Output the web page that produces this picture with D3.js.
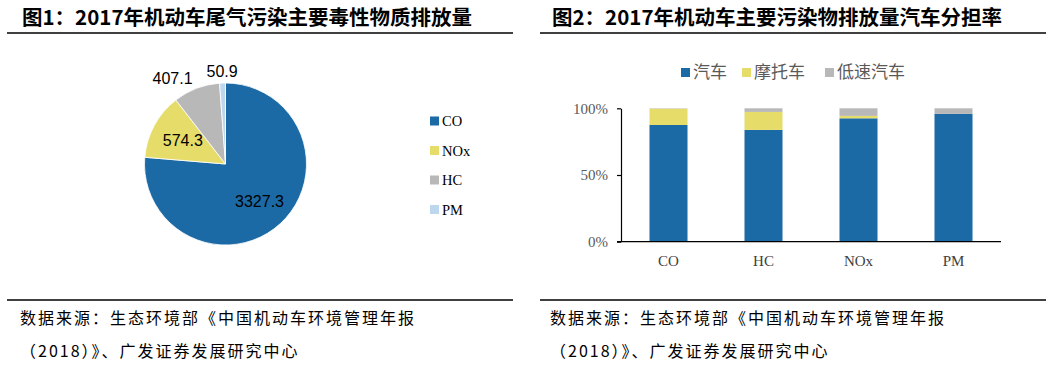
<!DOCTYPE html>
<html>
<head>
<meta charset="utf-8">
<script src="https://d3js.org/d3.v7.min.js"></script>
<style>
  body { margin: 0; background: #fff; }
  .title { font-family: "Noto Sans CJK SC", sans-serif; font-weight: 700; font-size: 20.5px; fill: #000; }
  .note { font-family: "Noto Sans CJK SC", sans-serif; font-size: 16px; letter-spacing: 2px; fill: #000; }
  .serif { font-family: "Liberation Serif", "DejaVu Serif", serif; }
</style>
</head>
<body>
<div id="chart"></div>
<script>
// chart 1: 2017 emissions of main toxic pollutants
var pollutants = ["CO", "NOx", "HC", "PM"];
var emissions = [3327.3, 574.3, 407.1, 50.9];
var pieColors = ["#1b6aa5", "#e6dc6a", "#b8b8b8", "#bdd7ee"];

// chart 2: share of each vehicle type (%)
var barCats = ["CO", "HC", "NOx", "PM"];
var vehicleTypes = ["汽车", "摩托车", "低速汽车"];
var carShare = [87.5, 83.8, 92.5, 95.8];
var motoShare = [12.2, 13.5, 1.8, 0];
var lowSpeedShare = [0.3, 2.7, 5.7, 4.2];
var barColors = ["#1b6aa5", "#e6dc6a", "#b8b8b8"];
var yTicks = [0, 50, 100];

var titles = ["图1：2017年机动车尾气污染主要毒性物质排放量", "图2：2017年机动车主要污染物排放量汽车分担率"];
var sourceLines = ["数据来源：生态环境部《中国机动车环境管理年报", "（2018）》、广发证券发展研究中心"];

var W = 1057, H = 370;
var svg = d3.select("#chart").append("svg")
  .attr("width", W).attr("height", H);

// titles, rules and source notes for both panels
var panels = [{x0: 7, x1: 513, tx: 22}, {x0: 540, x1: 1046, tx: 552}];
panels.forEach(function(p, i) {
  svg.append("text").attr("class", "title")
    .attr("x", p.tx).attr("y", 25).text(titles[i]);
  svg.append("line").attr("x1", p.x0).attr("x2", p.x1).attr("y1", 33).attr("y2", 33)
    .attr("stroke", "#000").attr("stroke-width", 1.5);
  svg.append("line").attr("x1", p.x0).attr("x2", p.x1).attr("y1", 300).attr("y2", 300)
    .attr("stroke", "#000").attr("stroke-width", 1.5);
  sourceLines.forEach(function(s, j) {
    svg.append("text").attr("class", "note")
      .attr("x", p.tx - 2).attr("y", 324 + j * 33).text(s);
  });
});

// ---- pie ----
var cx = 225.5, cy = 164, r = 81;
var pieData = pollutants.map(function(d, i) { return {name: d, value: emissions[i], color: pieColors[i]}; });
var pie = d3.pie().sort(null).value(function(d) { return d.value; });
var arcs = pie(pieData);
var arc = d3.arc().innerRadius(0).outerRadius(r);
var gPie = svg.append("g").attr("transform", "translate(" + cx + "," + cy + ")");
gPie.selectAll("path").data(arcs).enter().append("path")
  .attr("d", arc)
  .attr("fill", function(d) { return d.data.color; })
  .attr("stroke", "#fff").attr("stroke-width", 0.8);

// label radius: inside for big slices, outside for small ones
var labelR = [0.62, 0.6, 1.135, 1.14];
var labelAnchor = ["middle", "middle", "end", "middle"];
gPie.selectAll("text.lbl").data(arcs).enter().append("text")
  .attr("class", "lbl")
  .attr("transform", function(d, i) {
    var la = d3.arc().innerRadius(r * labelR[i]).outerRadius(r * labelR[i]);
    return "translate(" + la.centroid(d) + ")";
  })
  .attr("text-anchor", function(d, i) { return labelAnchor[i]; }).attr("dy", "0.35em")
  .style("font-family", "'Liberation Sans', Arial, sans-serif")
  .style("font-size", "16px").attr("fill", "#000")
  .text(function(d) { return d3.format(".1f")(d.value); });

// pie legend
var legY = d3.scalePoint().domain(pollutants).range([121, 209.5]);
var gLeg = svg.append("g");
pollutants.forEach(function(name, i) {
  gLeg.append("rect").attr("x", 430).attr("y", legY(name) - 4.5)
    .attr("width", 9).attr("height", 9).attr("fill", pieColors[i]);
  gLeg.append("text").attr("class", "serif")
    .attr("x", 442).attr("y", legY(name)).attr("dy", "0.35em")
    .style("font-size", "14.5px").attr("fill", "#000").text(name);
});

// ---- stacked bars ----
var plot = {left: 621, right: 1001, top: 108.3, bottom: 241.7};
var x = d3.scaleBand().domain(barCats).range([plot.left, plot.right]).paddingInner(0.6).paddingOuter(0.3);
var y = d3.scaleLinear().domain([0, 100]).range([plot.bottom, plot.top]);

var rows = barCats.map(function(c, i) {
  return {cat: c, "汽车": carShare[i], "摩托车": motoShare[i], "低速汽车": lowSpeedShare[i]};
});
var stack = d3.stack().keys(vehicleTypes)(rows);

var gBar = svg.append("g");
gBar.selectAll("g.layer").data(stack).enter().append("g")
  .attr("class", "layer")
  .attr("fill", function(d, i) { return barColors[i]; })
  .selectAll("rect").data(function(d) { return d; }).enter().append("rect")
    .attr("x", function(d) { return x(d.data.cat); })
    .attr("width", x.bandwidth())
    .attr("y", function(d) { return y(d[1]); })
    .attr("height", function(d) { return y(d[0]) - y(d[1]); });

// y axis
var yAxis = svg.append("g").attr("transform", "translate(" + plot.left + ",0)")
  .call(d3.axisLeft(y).tickValues(yTicks).tickSize(4).tickSizeOuter(0)
    .tickFormat(function(d) { return d + "%"; }));
yAxis.select(".domain").attr("stroke", "#000").attr("stroke-width", 1.2);
yAxis.selectAll(".tick line").attr("stroke", "#000").attr("stroke-width", 1.2);
yAxis.selectAll(".tick text").attr("class", "serif").attr("x", -13)
  .style("font-size", "15px").attr("fill", "#595959");

// x axis
var xAxis = svg.append("g").attr("transform", "translate(0," + plot.bottom + ")")
  .call(d3.axisBottom(x).tickSize(0).tickSizeOuter(0));
xAxis.select(".domain").attr("d", "M" + (plot.left - 4) + ",0H" + plot.right)
  .attr("stroke", "#000").attr("stroke-width", 1.2);
xAxis.selectAll(".tick text").attr("class", "serif").attr("y", 14)
  .style("font-size", "15px").attr("fill", "#404040");

// bar legend
var legX = [681, 742, 825];
vehicleTypes.forEach(function(name, i) {
  svg.append("rect").attr("x", legX[i]).attr("y", 68)
    .attr("width", 9).attr("height", 9).attr("fill", barColors[i]);
  svg.append("text").attr("x", legX[i] + 12).attr("y", 72.5).attr("dy", "0.35em")
    .style("font-family", "'Noto Sans CJK SC', sans-serif")
    .style("font-size", "17px").attr("fill", "#595959").text(name);
});
</script>
</body>
</html>
